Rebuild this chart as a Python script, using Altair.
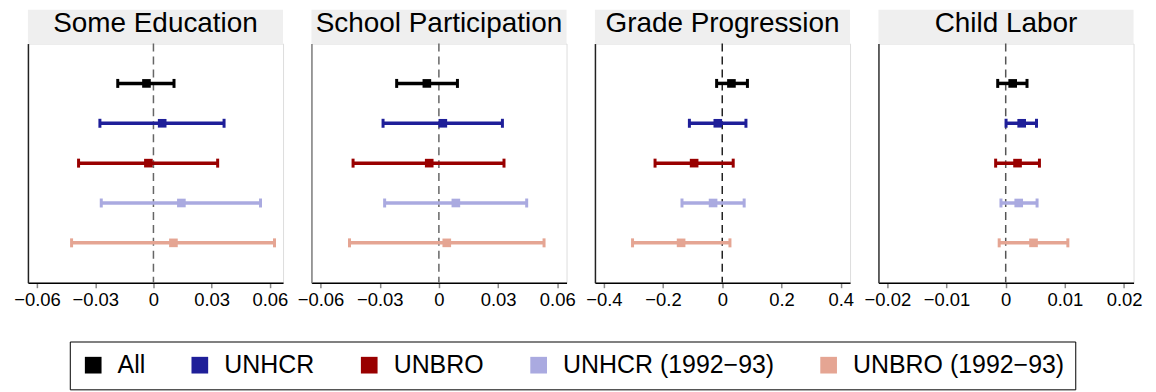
import altair as alt
import pandas as pd

# ---- data ----
panels = ["Some Education", "School Participation", "Grade Progression", "Child Labor"]
groups = ["All", "UNHCR", "UNBRO", "UNHCR (1992\u221293)", "UNBRO (1992\u221293)"]
colors = ["#000000", "#1f1f99", "#990000", "#aaaae0", "#e5a593"]
rows = [1, 2, 3, 4, 5]

est_some = [-0.0036, 0.0045, -0.0026, 0.0144, 0.0103]
lo_some = [-0.0184, -0.0276, -0.0386, -0.0269, -0.0422]
hi_some = [0.0106, 0.0364, 0.0331, 0.0552, 0.0624]

est_school = [-0.0061, 0.0020, -0.0049, 0.0086, 0.0040]
lo_school = [-0.0214, -0.0283, -0.0435, -0.0275, -0.0453]
hi_school = [0.0094, 0.0322, 0.0330, 0.0445, 0.0533]

est_grade = [0.031, -0.015, -0.095, -0.031, -0.139]
lo_grade = [-0.019, -0.111, -0.227, -0.136, -0.303]
hi_grade = [0.085, 0.080, 0.037, 0.074, 0.026]

est_labor = [0.00118, 0.0027, 0.0020, 0.0022, 0.0047]
lo_labor = [-0.00135, 0.00006, -0.0017, -0.0008, -0.0011]
hi_labor = [0.0036, 0.0052, 0.0057, 0.0053, 0.0105]

x_domains = [[-0.0647, 0.0668], [-0.0646, 0.0647], [-0.430, 0.4316], [-0.0215, 0.0216]]
x_ticks = [
    [-0.06, -0.03, 0, 0.03, 0.06],
    [-0.06, -0.03, 0, 0.03, 0.06],
    [-0.4, -0.2, 0, 0.2, 0.4],
    [-0.02, -0.01, 0, 0.01, 0.02],
]
left_axis_colors = ["#222222", "#808080", "#222222", "#333333"]
zero_colors = ["#666666", "#666666", "#222222", "#555555"]

estimates = [est_some, est_school, est_grade, est_labor]
lows = [lo_some, lo_school, lo_grade, lo_labor]
highs = [hi_some, hi_school, hi_grade, hi_labor]

records = []
for p, e, l, h in zip(panels, estimates, lows, highs):
    for g, c, r, ev, lv, hv in zip(groups, colors, rows, e, l, h):
        records.append({"panel": p, "group": g, "hex": c, "row": r,
                        "est": ev, "lo": lv, "hi": hv})
df = pd.DataFrame(records)

W = 256
H = 240
HEADER = 34
FONT = "Liberation Sans"

color_scale = alt.Scale(domain=groups, range=colors)
legend = alt.Legend(
    orient="none", legendX=42, legendY=299, direction="horizontal", title=None,
    symbolType="square", symbolSize=280, symbolStrokeWidth=0, symbolOpacity=1,
    labelFontSize=25, labelFont=FONT, labelColor="black", labelOffset=12,
    labelLimit=500, columnPadding=42, padding=11, strokeColor="black",
    fillColor="white",
)


def panel_chart(i):
    d = df[df.panel == panels[i]]
    xs = alt.Scale(domain=x_domains[i], nice=False, zero=False)
    ys = alt.Scale(domain=[0, 6], reverse=True, nice=False, zero=False)
    xaxis = alt.Axis(
        values=x_ticks[i], format="~g", title=None, grid=False,
        domainColor="black", domainWidth=1.5, tickColor="#888888", tickWidth=1.5,
        tickSize=5, labelFontSize=18.5, labelFont=FONT, labelColor="black",
        labelPadding=3, labelFlush=False, labelOverlap=False,
    )
    yaxis = alt.Axis(
        labels=False, ticks=False, grid=False, title=None,
        domainColor=left_axis_colors[i], domainWidth=1.5,
    )
    hdr = pd.DataFrame({"panel": [panels[i]]})
    header = alt.Chart(hdr).mark_rect(color="#efefef").encode(
        x=alt.value(0), x2=alt.value(W), y=alt.value(-HEADER), y2=alt.value(0)
    )
    htext = alt.Chart(hdr).mark_text(
        fontSize=28, font=FONT, baseline="alphabetic", align="center", color="black"
    ).encode(x=alt.value(W / 2), y=alt.value(-12), text="panel:N")

    zero = alt.Chart(pd.DataFrame({"zero": [0]})).mark_rule(
        strokeDash=[8, 5], color=zero_colors[i], strokeWidth=1.5
    ).encode(x=alt.X("zero:Q", scale=xs, axis=xaxis))

    base = alt.Chart(d)
    bars = base.mark_rule(strokeWidth=3.5).encode(
        x=alt.X("lo:Q", scale=xs, axis=xaxis),
        x2="hi:Q",
        y=alt.Y("row:Q", scale=ys, axis=yaxis),
        color=alt.Color("hex:N", scale=None),
    )
    cap_lo = base.mark_tick(orient="vertical", size=9, thickness=3, opacity=1).encode(
        x=alt.X("lo:Q", scale=xs, axis=xaxis),
        y=alt.Y("row:Q", scale=ys, axis=yaxis),
        color=alt.Color("hex:N", scale=None),
    )
    cap_hi = base.mark_tick(orient="vertical", size=9, thickness=3, opacity=1).encode(
        x=alt.X("hi:Q", scale=xs, axis=xaxis),
        y=alt.Y("row:Q", scale=ys, axis=yaxis),
        color=alt.Color("hex:N", scale=None),
    )
    pts = base.mark_square(size=75, filled=True, opacity=1).encode(
        x=alt.X("est:Q", scale=xs, axis=xaxis),
        y=alt.Y("row:Q", scale=ys, axis=yaxis),
        color=alt.Color("group:N", scale=color_scale, legend=legend),
    )
    return alt.layer(header, htext, zero, bars, cap_lo, cap_hi, pts).properties(
        width=W, height=H
    )


chart = alt.hconcat(
    *[panel_chart(i) for i in range(4)], spacing=28.5, bounds="flush"
).resolve_scale(x="independent").properties(
    padding={"left": 5, "top": 0, "right": 5, "bottom": 5}
).configure_view(stroke=None).configure(font=FONT)

chart.save("out.html", embed_options={"renderer": "svg", "actions": False})
